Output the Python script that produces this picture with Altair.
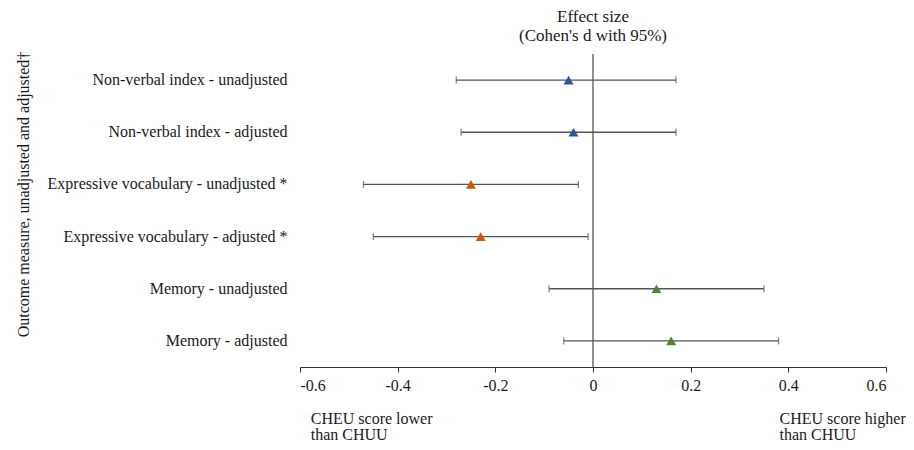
import altair as alt
import pandas as pd

# ---- data ----
measures = [
    "Non-verbal index - unadjusted",
    "Non-verbal index - adjusted",
    "Expressive vocabulary - unadjusted *",
    "Expressive vocabulary - adjusted *",
    "Memory - unadjusted",
    "Memory - adjusted",
]
effect = [-0.05, -0.04, -0.25, -0.23, 0.13, 0.16]
ci_low = [-0.28, -0.27, -0.47, -0.45, -0.09, -0.06]
ci_high = [0.17, 0.17, -0.03, -0.01, 0.35, 0.38]
group = ["Non-verbal", "Non-verbal", "Vocabulary", "Vocabulary", "Memory", "Memory"]
group_names = ["Non-verbal", "Vocabulary", "Memory"]
group_colors = ["#2F5597", "#C55A11", "#548235"]
x_ticks = [-0.6, -0.4, -0.2, 0, 0.2, 0.4, 0.6]
title_lines = ["Effect size", "(Cohen's d with 95%)"]
y_title = "Outcome measure, unadjusted and adjusted\u2020"
note_left = ["CHEU score lower", "than CHUU"]
note_right = ["CHEU score higher", "than CHUU"]

df = pd.DataFrame({
    "measure": measures,
    "effect": effect,
    "lo": ci_low,
    "hi": ci_high,
    "group": group,
})

FONT = "Liberation Serif"
TXT = "#1a1a1a"
FS = 16

x_scale = alt.Scale(domain=[-0.6, 0.6], nice=False, zero=False)
y_enc = alt.Y(
    "measure:N",
    sort=measures,
    scale=alt.Scale(paddingInner=0, paddingOuter=0),
    axis=alt.Axis(
        title=y_title,
        domain=False,
        ticks=False,
        labelPadding=13,
        labelFont=FONT,
        labelFontSize=FS,
        labelColor=TXT,
        labelLimit=400,
        titleFont=FONT,
        titleFontSize=FS,
        titleFontWeight="normal",
        titleColor=TXT,
        titleAngle=270,
        titleAlign="center",
        titleBaseline="middle",
        titleX=-277,
        titleY=140,
    ),
)

x_axis = alt.Axis(
    title=None,
    values=x_ticks,
    labelExpr="datum.value == 0 ? '0' : replace(format(datum.value, '.1f'), '\u2212', '-')",
    grid=False,
    domainColor="#333333",
    tickColor="#333333",
    tickSize=5,
    labelPadding=5,
    labelFont=FONT,
    labelFontSize=FS,
    labelColor=TXT,
)

base = alt.Chart(df)

zero_line = base.mark_rule(color="#222222", strokeWidth=1).encode(
    x=alt.X("z:Q", scale=x_scale, axis=x_axis),
).transform_calculate(z="0").transform_aggregate(z="min(z)")

bars = base.mark_rule(color="#555555", strokeWidth=1.3).encode(
    x=alt.X("lo:Q", scale=x_scale, axis=x_axis),
    x2="hi:Q",
    y=y_enc,
)

cap_lo = base.mark_tick(color="#555555", thickness=1.3, size=7).encode(
    x=alt.X("lo:Q", scale=x_scale), y=alt.Y("measure:N", sort=measures)
)
cap_hi = base.mark_tick(color="#555555", thickness=1.3, size=7).encode(
    x=alt.X("hi:Q", scale=x_scale), y=alt.Y("measure:N", sort=measures)
)

points = base.mark_point(shape="triangle-up", filled=True, opacity=1, size=100).encode(
    x=alt.X("effect:Q", scale=x_scale),
    y=alt.Y("measure:N", sort=measures),
    color=alt.Color(
        "group:N",
        scale=alt.Scale(domain=group_names, range=group_colors),
        legend=None,
    ),
)

notes = pd.DataFrame({
    "text": [note_left, note_right],
    "xpos": [-0.578, 0.382],
})
note_marks = alt.Chart(notes).mark_text(
    align="left", baseline="top", font=FONT, fontSize=FS, color=TXT, lineHeight=16
).encode(
    x=alt.X("xpos:Q", scale=x_scale),
    y=alt.value(357),
    text="text",
)

chart = alt.layer(zero_line, bars, cap_lo, cap_hi, points, note_marks).properties(
    width=586,
    height=313,
    title=alt.TitleParams(
        title_lines,
        anchor="middle",
        font=FONT,
        fontSize=17,
        fontWeight="normal",
        color=TXT,
        offset=6,
        lineHeight=19,
    ),
    autosize=alt.AutoSizeParams(type="none"),
    padding={"left": 292, "top": 46, "right": 20, "bottom": 75},
).configure_view(stroke="transparent")

chart.save("out.html", embed_options={"renderer": "svg", "actions": False})
